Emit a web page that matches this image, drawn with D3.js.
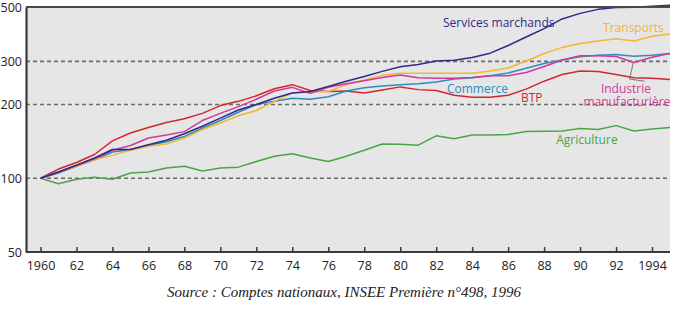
<!DOCTYPE html>
<html>
<head>
<meta charset="utf-8">
<script src="https://cdn.jsdelivr.net/npm/d3@7"></script>
<style>
  html, body { margin: 0; padding: 0; background: #fff; }
  svg { display: block; }
</style>
</head>
<body>
<div id="chart"></div>
<script>
// années (abscisse)
const years = [1960, 1961, 1962, 1963, 1964, 1965, 1966, 1967, 1968, 1969,
  1970, 1971, 1972, 1973, 1974, 1975, 1976, 1977, 1978, 1979,
  1980, 1981, 1982, 1983, 1984, 1985, 1986, 1987, 1988, 1989,
  1990, 1991, 1992, 1993, 1994, 1995];

// indices base 100 en 1960
const services = [100, 106, 113, 121, 131, 131, 137, 143, 152, 163,
  176, 190, 200, 212, 223, 226, 237, 249, 260, 273,
  285, 291, 301, 303, 311, 324, 348, 377, 408, 447,
  471, 489, 498, 499, 504, 508];
const transports = [100, 106, 112, 119, 124, 130, 135, 138, 146, 158,
  168, 180, 189, 206, 223, 225, 226, 241, 252, 263,
  268, 268, 268, 268, 268, 274, 282, 301, 323, 342,
  355, 363, 371, 363, 380, 388];
const commerce = [100, 105, 112, 119, 128, 131, 136, 141, 148, 160,
  172, 186, 200, 206, 212, 210, 215, 227, 234, 238,
  241, 243, 247, 254, 257, 262, 269, 281, 294, 304,
  313, 318, 320, 315, 318, 323];
const btp = [100, 109, 116, 125, 142, 153, 161, 169, 175, 184,
  198, 206, 217, 232, 241, 228, 226, 227, 223, 229,
  236, 230, 228, 218, 214, 214, 218, 231, 249, 265,
  274, 273, 265, 257, 256, 253];
const industrie = [100, 106, 113, 120, 130, 136, 146, 150, 155, 172,
  184, 196, 210, 227, 235, 222, 235, 243, 250, 258,
  264, 257, 256, 256, 258, 262, 262, 270, 286, 304,
  316, 316, 314, 297, 312, 323];
const agriculture = [100, 95, 99, 101, 99, 105, 106, 110, 112, 107,
  110, 111, 117, 123, 126, 121, 117, 123, 130, 138,
  137.5, 136.5, 149, 145, 150, 150, 151, 155, 155.5, 156,
  159.5, 158, 164, 156, 159, 161];

// graduations
const yTicks = [50, 100, 200, 300, 500];
const yGrid = [100, 200, 300];
const xTicks = [1960, 1962, 1964, 1966, 1968, 1970, 1972, 1974, 1976, 1978,
  1980, 1982, 1984, 1986, 1988, 1990, 1992, 1994];
const xTickLabels = ["1960", "62", "64", "66", "68", "70", "72", "74", "76", "78",
  "80", "82", "84", "86", "88", "90", "92", "1994"];

const series = [
  { name: "Agriculture", values: agriculture, color: "#4ba446" },
  { name: "BTP", values: btp, color: "#d3262d" },
  { name: "Commerce", values: commerce, color: "#2d8cc0" },
  { name: "Transports", values: transports, color: "#f6b533" },
  { name: "Industrie", values: industrie, color: "#d2399a" },
  { name: "Services", values: services, color: "#2f2a88" }
];

const W = 682, H = 310;
const mLeft = 26, mRight = 670, mTop = 7, mBottom = 252;

const svg = d3.select("#chart").append("svg")
  .attr("width", W)
  .attr("height", H);

const x = d3.scaleLinear().domain([1960, 1995]).range([mLeft + 14.5, mRight]);
const y = d3.scaleLog().domain([50, 500]).range([mBottom, mTop]);

// fond gris
svg.append("rect")
  .attr("x", mLeft).attr("y", mTop)
  .attr("width", mRight - mLeft).attr("height", mBottom - mTop)
  .attr("fill", "#e6e6e6");

// lignes pointillées
svg.append("g").selectAll("line")
  .data(yGrid)
  .join("line")
  .attr("x1", mLeft).attr("x2", mRight)
  .attr("y1", d => y(d)).attr("y2", d => y(d))
  .attr("stroke", "#6b6b6b")
  .attr("stroke-width", 1.6)
  .attr("stroke-dasharray", "4,3");

// courbes
const line = d3.line()
  .x((d, i) => x(years[i]))
  .y(d => y(d));

svg.append("g").selectAll("path")
  .data(series)
  .join("path")
  .attr("d", s => line(s.values))
  .attr("fill", "none")
  .attr("stroke", s => s.color)
  .attr("stroke-width", 1.5)
  .attr("stroke-linejoin", "round");

// trait de rappel vers Industrie manufacturière
const leader = [[1992.97, 298], [1992.75, 254], [1993.58, 249]];
svg.append("path")
  .attr("d", d3.line().x(d => x(d[0])).y(d => y(d[1]))(leader))
  .attr("fill", "none")
  .attr("stroke", "#777")
  .attr("stroke-width", 1);

// cadre : haut
svg.append("line")
  .attr("x1", mLeft).attr("x2", mRight)
  .attr("y1", mTop).attr("y2", mTop)
  .attr("stroke", "#4a4a4a").attr("stroke-width", 2);

// axe gauche
const yAxis = svg.append("g")
  .attr("transform", `translate(${mLeft},0)`)
  .call(d3.axisLeft(y).tickValues(yTicks).tickFormat(d3.format("d")).tickSize(0).tickPadding(4));
yAxis.select(".domain").attr("stroke", "#3a3a3a").attr("stroke-width", 2.2);
yAxis.selectAll("text")
  .attr("font-family", "'Open Sans', sans-serif")
  .attr("font-size", 12.5)
  .attr("fill", "#222");

// axe bas
const xAxis = svg.append("g")
  .attr("transform", `translate(0,${mBottom})`)
  .call(d3.axisBottom(x).tickValues(xTicks).tickFormat((d, i) => xTickLabels[i]).tickSizeInner(-5).tickSizeOuter(0).tickPadding(9));
xAxis.select(".domain").attr("stroke", "#3a3a3a").attr("stroke-width", 2.2)
  .attr("d", `M${mLeft},0H${mRight}`);
xAxis.selectAll(".tick line").attr("stroke", "#3a3a3a").attr("stroke-width", 1.5);
xAxis.selectAll("text")
  .attr("font-family", "'Open Sans', sans-serif")
  .attr("font-size", 12.5)
  .attr("fill", "#222");

// étiquettes des courbes (position en année / indice)
const labels = [
  { text: "Services marchands", x: 1982.38, y: 414, color: "#2f2a88", anchor: "start" },
  { text: "Transports", x: 1992.97, y: 395, color: "#f6b533", anchor: "middle" },
  { text: "Commerce", x: 1982.6, y: 223, color: "#2d8cc0", anchor: "start" },
  { text: "BTP", x: 1987.31, y: 205, color: "#d3262d", anchor: "middle" },
  { text: "Industrie", x: 1992.55, y: 223, color: "#d2399a", anchor: "middle" },
  { text: "manufacturière", x: 1992.6, y: 197, color: "#d2399a", anchor: "middle" },
  { text: "Agriculture", x: 1990.38, y: 138, color: "#4ba446", anchor: "middle" }
];
svg.append("g").selectAll("text")
  .data(labels)
  .join("text")
  .attr("x", d => x(d.x))
  .attr("y", d => y(d.y))
  .attr("text-anchor", d => d.anchor)
  .attr("font-family", "'Open Sans', sans-serif")
  .attr("font-size", 12)
  .attr("fill", d => d.color)
  .text(d => d.text);

// source
svg.append("text")
  .attr("x", 344)
  .attr("y", 297)
  .attr("text-anchor", "middle")
  .attr("font-family", "'Liberation Serif', 'Times New Roman', serif")
  .attr("font-style", "italic")
  .attr("font-size", 15)
  .attr("fill", "#222")
  .text("Source : Comptes nationaux, INSEE Première n°498, 1996");
</script>
</body>
</html>
